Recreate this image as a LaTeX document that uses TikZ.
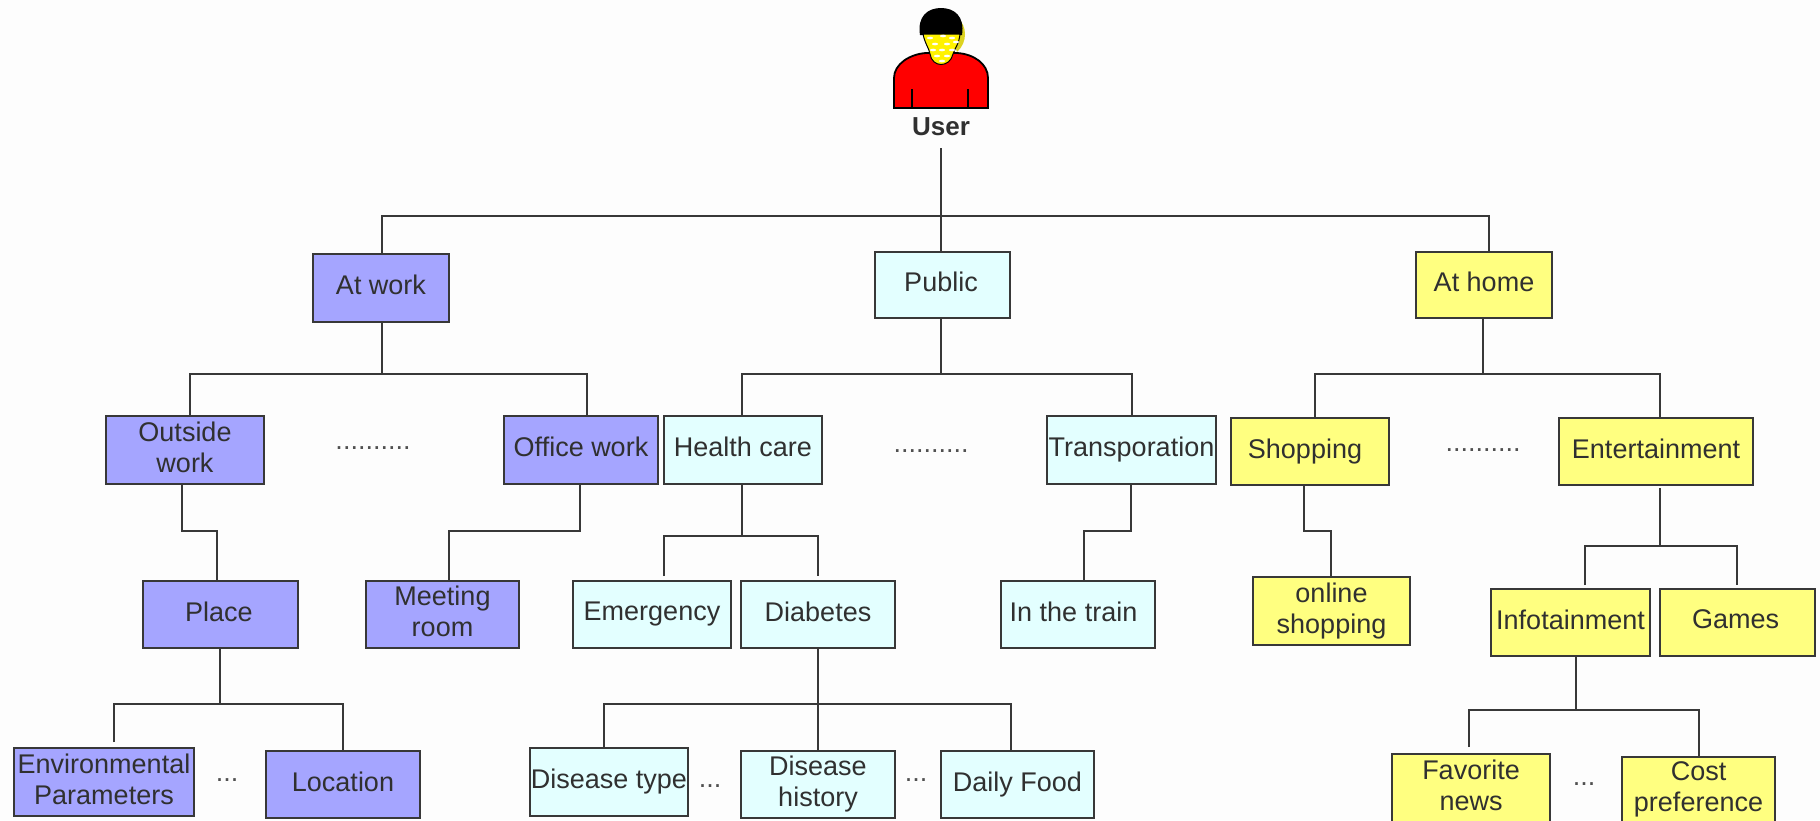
\documentclass[tikz,border=0pt]{standalone}
\usepackage{fontspec}
\setmainfont{Liberation Sans}
\definecolor{workc}{HTML}{A5A5FF}
\definecolor{pubc}{HTML}{E3FFFF}
\definecolor{homec}{HTML}{FFFF80}
\definecolor{linec}{HTML}{383838}
\definecolor{inkc}{HTML}{303030}
\definecolor{dotc}{HTML}{505050}
\definecolor{paperc}{HTML}{FDFDFD}
\tikzset{
  basebox/.style={draw=linec,line width=2.2pt,rectangle,inner sep=0pt,align=center,text=inkc,text depth=6pt,
    font=\fontsize{27}{31}\selectfont},
  workbox/.style={basebox,fill=workc},
  pubbox/.style={basebox,fill=pubc},
  homebox/.style={basebox,fill=homec},
  link/.style={draw=linec,line width=2.2pt},
  dots/.style={inner sep=0pt,text=dotc,font=\fontsize{27}{31}\selectfont},
}
\newcommand{\bx}[7]{\node[#6,minimum width={(#4-#2)*1pt},minimum height={(#5-#3)*1pt}] (#1) at ({(#2+#4)/2},{(#3+#5)/2}) {#7};}
\begin{document}
\begin{tikzpicture}[x=1pt,y=-1pt]
\useasboundingbox (0,0) rectangle (1820,820);
\fill[paperc] (0,0) rectangle (1820,820);
% person
\fill[yellow!85!black] (958,18) .. controls (967,26) and (968,42) .. (957,52) -- (950,30) -- cycle;
\fill[black] (920,35) .. controls (917,16) and (928,8) .. (941,8) .. controls (954,8) and (965,16) .. (962,35) -- cycle;
\fill[red,draw=black,line width=1.8pt] (894,108) -- (894,78) .. controls (894,64) and (910,54) .. (926,53) -- (957,53) .. controls (974,54) and (988,64) .. (988,78) -- (988,108) -- cycle;
\fill[yellow,draw=black,line width=1pt] (923,34) .. controls (925,44) and (929,48) .. (930,54) .. controls (932,68) and (950,68) .. (953,54) .. controls (955,48) and (959,44) .. (960,34) -- cycle;
\foreach \px/\py in {930/38,943/36,952/38,935/44,947/44,956/42,933/50,942/50,952/50,937/56,947/56,942/61}
  \fill[white] (\px,\py) ellipse (3pt and 1.3pt);
\draw[black,line width=1.4pt] (912,89) -- (912,108) (968,89) -- (968,108);
\node[inner sep=0pt,text=inkc,font=\fontsize{26}{29}\selectfont\bfseries] (user) at (941,127) {User};
% level 1
\bx{atwork}{313}{254}{449}{322}{workbox}{At work}
\bx{public}{875}{252}{1010}{318}{pubbox}{Public\rule{3pt}{0pt}}
\bx{athome}{1416}{252}{1552}{318}{homebox}{At home}
% level 2
\bx{outside}{106}{416}{264}{484}{workbox}{Outside\\work}
\bx{office}{504}{416}{658}{484}{workbox}{Office work}
\bx{health}{664}{416}{822}{484}{pubbox}{Health care}
\bx{transp}{1047}{416}{1216}{484}{pubbox}{Transporation}
\bx{shopping}{1231}{418}{1389}{485}{homebox}{Shopping\rule{10pt}{0pt}}
\bx{entert}{1559}{418}{1753}{485}{homebox}{Entertainment}
% level 3
\bx{place}{143}{581}{298}{648}{workbox}{Place\rule{3pt}{0pt}}
\bx{meeting}{366}{581}{519}{648}{workbox}{Meeting\\room}
\bx{emerg}{573}{581}{731}{648}{pubbox}{Emergency}
\bx{diabetes}{741}{581}{895}{648}{pubbox}{Diabetes}
\bx{train}{1001}{581}{1155}{648}{pubbox}{In the train\rule{9pt}{0pt}}
\bx{online}{1253}{577}{1410}{645}{homebox}{online\\shopping}
\bx{info}{1491}{589}{1650}{656}{homebox}{Infotainment}
\bx{games}{1660}{589}{1815}{656}{homebox}{Games\rule{4pt}{0pt}}
% level 4
\bx{envir}{14}{748}{194}{816}{workbox}{Environmental\\Parameters}
\bx{location}{266}{751}{420}{818}{workbox}{Location}
\bx{dtype}{530}{748}{688}{816}{pubbox}{Disease type}
\bx{dhist}{741}{751}{895}{818}{pubbox}{Disease\\history}
\bx{food}{941}{751}{1094}{818}{pubbox}{Daily Food}
\bx{favor}{1392}{754}{1550}{822}{homebox}{Favorite\\news}
\bx{cost}{1622}{757}{1775}{823}{homebox}{Cost\\preference}
% dots
\node[dots] (d1) at (373,448) {..........};
\node[dots] (d2) at (931,451) {..........};
\node[dots] (d3) at (1483,450) {..........};
\node[dots] (d4) at (227,780) {...};
\node[dots] (d5) at (710,786) {...};
\node[dots] (d6) at (916,780) {...};
\node[dots] (d7) at (1584,784) {...};
% bus coordinates
\coordinate (u0) at (941,148);
\coordinate (b0) at (941,216);
\coordinate (b0l) at (382,216);
\coordinate (b0r) at (1489,216);
\coordinate (w0) at (382,374);
\coordinate (w0l) at (190,374);
\coordinate (w0r) at (587,374);
\coordinate (p0) at (941,374);
\coordinate (p0l) at (742,374);
\coordinate (p0r) at (1132,374);
\coordinate (h0) at (1483,374);
\coordinate (h0l) at (1315,374);
\coordinate (h0r) at (1660,374);
\coordinate (o1) at (182,531);
\coordinate (o2) at (217,531);
\coordinate (f1) at (580,531);
\coordinate (f2) at (449,531);
\coordinate (t1) at (1131,531);
\coordinate (t2) at (1084,531);
\coordinate (s1) at (1304,531);
\coordinate (s2) at (1331,531);
\coordinate (hc) at (742,536);
\coordinate (hcl) at (664,536);
\coordinate (hcr) at (818,536);
\coordinate (hcle) at (664,576);
\coordinate (hcre) at (818,576);
\coordinate (en) at (1660,546);
\coordinate (enl) at (1585,546);
\coordinate (enr) at (1737,546);
\coordinate (enle) at (1585,585);
\coordinate (enre) at (1737,585);
\coordinate (entop) at (1660,488);
\coordinate (pl) at (220,704);
\coordinate (pll) at (114,704);
\coordinate (plr) at (343,704);
\coordinate (plle) at (114,742);
\coordinate (di) at (818,704);
\coordinate (dil) at (604,704);
\coordinate (dir) at (1011,704);
\coordinate (inf) at (1576,710);
\coordinate (infl) at (1469,710);
\coordinate (infr) at (1699,710);
\coordinate (infle) at (1469,747);
% connectors
\draw[link] (u0) -- (public.north -| u0);
\draw[link] (atwork.north -| b0l) -- (b0l) -- (b0r) -- (athome.north -| b0r);
\draw[link] (atwork.south -| w0) -- (w0);
\draw[link] (outside.north -| w0l) -- (w0l) -- (w0r) -- (office.north -| w0r);
\draw[link] (public.south -| p0) -- (p0);
\draw[link] (health.north -| p0l) -- (p0l) -- (p0r) -- (transp.north -| p0r);
\draw[link] (athome.south -| h0) -- (h0);
\draw[link] (shopping.north -| h0l) -- (h0l) -- (h0r) -- (entert.north -| h0r);
\draw[link] (outside.south -| o1) -- (o1) -- (o2) -- (place.north -| o2);
\draw[link] (office.south -| f1) -- (f1) -- (f2) -- (meeting.north -| f2);
\draw[link] (transp.south -| t1) -- (t1) -- (t2) -- (train.north -| t2);
\draw[link] (shopping.south -| s1) -- (s1) -- (s2) -- (online.north -| s2);
\draw[link] (health.south -| hc) -- (hc);
\draw[link] (hcle) -- (hcl) -- (hcr) -- (hcre);
\draw[link] (entop) -- (en);
\draw[link] (enle) -- (enl) -- (enr) -- (enre);
\draw[link] (place.south -| pl) -- (pl);
\draw[link] (plle) -- (pll) -- (plr) -- (location.north -| plr);
\draw[link] (diabetes.south -| di) -- (dhist.north -| di);
\draw[link] (dtype.north -| dil) -- (dil) -- (dir) -- (food.north -| dir);
\draw[link] (info.south -| inf) -- (inf);
\draw[link] (infle) -- (infl) -- (infr) -- (cost.north -| infr);
\end{tikzpicture}
\end{document}
